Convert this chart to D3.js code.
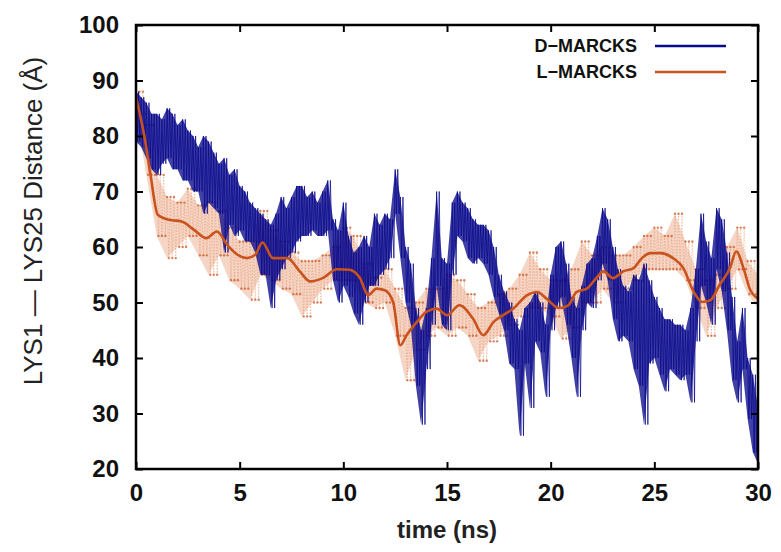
<!DOCTYPE html>
<html>
<head>
<meta charset="utf-8">
<title>LYS1 -- LYS25 Distance</title>
<script src="https://d3js.org/d3.v7.min.js"></script>
<style>
    body {
        margin: 0;
        padding: 0;
        background: white;
        font-family: "Liberation Sans", Arial, sans-serif;
    }

    .axis text {
        font-family: "Liberation Sans", Arial, sans-serif;
        font-weight: bold;
        font-size: 24px;
        fill: #111;
    }

    .axis line {
        stroke: black;
        stroke-width: 2;
    }
</style>
</head>
<body>
<div id="chart"></div>
<script>
// axis ticks
var timeTicks = [0, 5, 10, 15, 20, 25, 30];
var distTicks = [20, 30, 40, 50, 60, 70, 80, 90, 100];

// D-MARCKS: upper / lower edge of the noisy trace, every 0.25 ns from 0 to 30
var dStep = 0.25;
var dHigh = [88, 87, 86, 84, 84, 83, 85, 84, 82, 83, 81, 80, 78, 80, 79, 77,
    75, 76, 73, 74, 71, 70, 68, 67, 66, 65, 64, 66, 69, 67, 69, 71,
    71, 69, 70, 68, 70, 72, 65, 63, 68, 62, 59, 60, 62, 60, 66, 64,
    66, 65, 74, 69, 60, 57, 49, 45, 49, 58, 70, 58, 57, 68, 70, 68,
    67, 65, 64, 64, 63, 60, 55, 52, 50, 47, 45, 49, 50, 52, 50, 46,
    55, 60, 61, 57, 51, 49, 53, 57, 58, 62, 67, 65, 60, 56, 53, 52,
    55, 54, 57, 54, 51, 49, 47, 47, 46, 46, 45, 49, 56, 66, 61, 58,
    67, 65, 59, 51, 43, 49, 40, 37, 31];
var dLow = [79, 78, 76, 74, 73, 75, 76, 74, 74, 72, 72, 70, 70, 66, 68, 67,
    66, 59, 64, 62, 63, 61, 61, 59, 55, 55, 49, 54, 56, 58, 59, 61,
    62, 62, 63, 62, 62, 63, 54, 50, 53, 51, 48, 46, 50, 53, 53, 55,
    56, 58, 66, 58, 50, 46, 35, 28, 38, 46, 53, 46, 45, 55, 62, 61,
    58, 57, 58, 57, 55, 51, 48, 45, 39, 38, 26, 39, 31, 43, 41, 33,
    45, 49, 51, 46, 40, 33, 45, 50, 49, 54, 57, 54, 47, 43, 44, 43,
    38, 35, 28, 39, 40, 37, 34, 38, 37, 36, 37, 32, 43, 53, 50, 46,
    56, 52, 45, 36, 32, 38, 29, 23, 21];

// L-MARCKS raw scatter: upper / lower edge, every 0.5 ns
var lStep = 0.5;
var lHigh = [88, 82, 73, 69, 68, 70.5, 67.5, 68, 66.5, 63.5, 61, 61, 66.5, 63, 61, 59,
    57.5, 57.5, 58.5, 60, 63.5, 62, 57, 54.5, 56, 52.5, 49, 50, 52.5, 52.5, 55, 54,
    51.5, 49, 50, 51.5, 52.5, 55, 59, 56, 54, 54, 56, 61, 58.5, 60, 58.5, 58.5,
    60, 62, 63.5, 62, 66, 61, 56, 54, 55, 60, 63.5, 57.5, 55];
var lLow = [84, 73, 62, 58, 60, 62, 58.5, 55, 58.5, 54, 52.5, 50.5, 55, 54, 52.5, 51.5,
    47.5, 50, 52.5, 54, 54, 54, 50, 49, 50, 44, 36, 41.5, 44, 45.5, 44, 45.5,
    44, 39.5, 43, 44, 46, 47.5, 49, 49, 47.5, 43.5, 45.5, 50, 50, 52.5, 50, 52.5,
    54, 56, 56, 56, 56, 54, 49, 44, 49, 52.5, 56, 51.5, 49];

// L-MARCKS running average (smooth line)
var lSmoothTime = [0, 0.4, 0.7, 1.05, 1.6, 2.2, 2.8, 3.4, 3.9, 4.4, 4.9, 5.35, 5.75, 6.1,
    6.6, 7.3, 7.9, 8.4, 9.0, 9.7, 10.3, 10.8, 11.2, 11.6, 12.0, 12.4, 12.75, 13.05,
    13.55, 14.0, 14.5, 15.0, 15.6, 16.25, 16.75, 17.25, 17.7, 18.2, 18.85, 19.35,
    19.8, 20.4, 20.85, 21.25, 21.75, 22.2, 22.55, 23.0, 23.5, 24.0, 24.4, 24.8,
    25.3, 25.9, 26.4, 26.9, 27.3, 27.7, 28.15, 28.65, 28.95, 29.3, 29.6, 30];
var lSmoothDist = [87, 80, 73, 65.8, 64.9, 64.6, 63.1, 61.6, 62.8, 60.4, 58.6, 58.0, 58.6, 60.8,
    58, 58, 55.6, 53.8, 54.4, 56, 55.9, 54.4, 51.3, 52.5, 52.2, 50.1, 42.3, 44.1,
    46.5, 48.3, 48.9, 47.7, 49.5, 47.1, 44.1, 46.5, 47.7, 48.9, 51.3, 51.9,
    50.7, 49, 49.5, 51.9, 52.5, 54.4, 55.6, 54.4, 55.6, 56.2, 58, 58.9,
    58.9, 58, 56.2, 51.9, 50.1, 50.4, 53.2, 56.2, 59.2, 56.2, 52.5, 50.7];

var seriesNames = ["D-MARCKS", "L-MARCKS"];
var blue = "#0a0a8c",
    orange = "#c9521d",
    orangeLight = "#e07c4a";

var W = 781, H = 552;
var margin = { top: 25, right: 23, bottom: 83, left: 136 };
var width = W - margin.left - margin.right,
    height = H - margin.top - margin.bottom;

var svg = d3.select("#chart")
    .append("svg")
    .attr("width", W)
    .attr("height", H);

var g = svg.append("g")
    .attr("transform", "translate(" + margin.left + "," + margin.top + ")");

var x = d3.scaleLinear().domain([0, 30]).range([0, width]);
var y = d3.scaleLinear().domain([20, 100]).range([height, 0]);

var line = d3.line()
    .x(function (d) { return x(d[0]); })
    .y(function (d) { return y(d[1]); });

var band = d3.area()
    .x(function (d) { return x(d[0]); })
    .y0(function (d) { return y(d[2]); })
    .y1(function (d) { return y(d[1]); });

g.append("clipPath").attr("id", "plotclip")
    .append("rect").attr("width", width).attr("height", height);

var plot = g.append("g").attr("clip-path", "url(#plotclip)");

// zig-zag through the envelope, n passes per time step
function zigzag(hi, lo, step, n) {
    var pts = [];
    hi.forEach(function (h, i) {
        for (var k = 0; k < n; k++) {
            var t = i * step + k * step / n;
            pts.push([t, h]);
            pts.push([t + step / (2 * n), lo[i]]);
        }
    });
    return pts;
}

// L-MARCKS raw cloud
var lPts = zigzag(lHigh, lLow, lStep, 3);

plot.append("path")
    .datum(lHigh.map(function (h, i) { return [i * lStep, h, lLow[i]]; }))
    .attr("fill", orangeLight)
    .attr("fill-opacity", 0.32)
    .attr("d", band);

plot.append("path")
    .datum(lPts)
    .attr("fill", "none")
    .attr("stroke", orangeLight)
    .attr("stroke-width", 0.8)
    .attr("stroke-opacity", 0.5)
    .attr("stroke-dasharray", "1.5,1.5")
    .attr("d", line);

plot.append("g")
    .selectAll("circle")
    .data(lPts)
    .enter()
    .append("circle")
    .attr("cx", function (d) { return x(d[0]); })
    .attr("cy", function (d) { return y(d[1]); })
    .attr("r", 1.2)
    .attr("fill", orange)
    .attr("fill-opacity", 0.7);

// D-MARCKS noisy trace
plot.append("path")
    .datum(dHigh.map(function (h, i) { return [i * dStep, h, dLow[i]]; }))
    .attr("fill", blue)
    .attr("fill-opacity", 0.78)
    .attr("d", band);

plot.append("path")
    .datum(zigzag(dHigh, dLow, dStep, 2))
    .attr("fill", "none")
    .attr("stroke", blue)
    .attr("stroke-width", 1)
    .attr("stroke-opacity", 0.75)
    .attr("d", line);

// L-MARCKS smooth line
plot.append("path")
    .datum(lSmoothTime.map(function (t, i) { return [t, lSmoothDist[i]]; }))
    .attr("fill", "none")
    .attr("stroke", orange)
    .attr("stroke-width", 2.6)
    .attr("stroke-linejoin", "round")
    .attr("d", d3.line()
        .curve(d3.curveMonotoneX)
        .x(function (d) { return x(d[0]); })
        .y(function (d) { return y(d[1]); }));

// axes, ticks pointing inwards on all four sides
g.append("g")
    .attr("class", "axis")
    .attr("transform", "translate(0," + height + ")")
    .call(d3.axisBottom(x).tickValues(timeTicks).tickSize(-7).tickPadding(15));

g.append("g")
    .attr("class", "axis")
    .call(d3.axisLeft(y).tickValues(distTicks).tickSize(-7).tickPadding(17));

g.append("g")
    .attr("class", "axis")
    .call(d3.axisTop(x).tickValues(timeTicks).tickSize(-7).tickFormat(""));

g.append("g")
    .attr("class", "axis")
    .attr("transform", "translate(" + width + ",0)")
    .call(d3.axisRight(y).tickValues(distTicks).tickSize(-7).tickFormat(""));

g.selectAll(".axis .domain").remove();

g.append("rect")
    .attr("width", width)
    .attr("height", height)
    .attr("fill", "none")
    .attr("stroke", "black")
    .attr("stroke-width", 2.5);

// axis titles
svg.append("text")
    .attr("x", margin.left + width / 2)
    .attr("y", 538)
    .attr("text-anchor", "middle")
    .style("font-size", "24px")
    .style("font-weight", "bold")
    .style("fill", "#222")
    .text("time (ns)");

svg.append("text")
    .attr("transform", "translate(42,221) rotate(-90)")
    .attr("text-anchor", "middle")
    .style("font-size", "26px")
    .style("fill", "#222")
    .text("LYS1 \u2014 LYS25 Distance (\u00C5)");

// legend
var legend = g.append("g");
[blue, orange].forEach(function (c, i) {
    var ly = 21 + i * 26;
    legend.append("text")
        .attr("x", 501)
        .attr("y", ly)
        .attr("dy", "0.35em")
        .attr("text-anchor", "end")
        .style("font-size", "18px")
        .style("font-weight", "bold")
        .style("fill", "#111")
        .text(seriesNames[i].replace("-", "\u2212"));
    legend.append("line")
        .attr("x1", 519)
        .attr("x2", 590)
        .attr("y1", ly)
        .attr("y2", ly)
        .attr("stroke", c)
        .attr("stroke-width", 2.6);
});
</script>
</body>
</html>
